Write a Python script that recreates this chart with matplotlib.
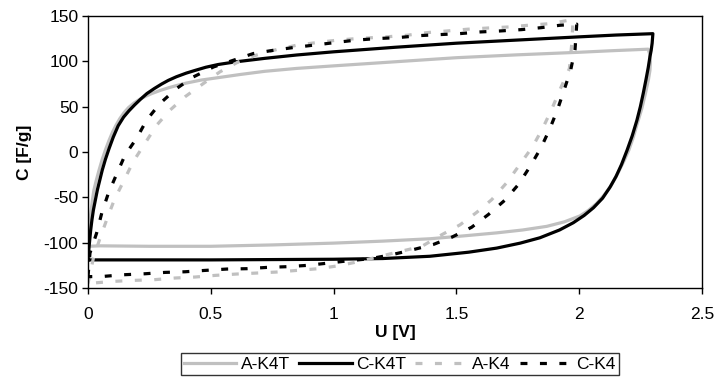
#!/usr/bin/env python
# coding=utf-8
"""
Cyclic voltammetry style loops: C [F/g] vs U [V]
"""
import matplotlib
matplotlib.use('Agg')
import matplotlib.pyplot as plt

# for figure
FIG_W = 7.15
FIG_H = 3.77
DPI = 100
FONT_SIZE = 12.5
GREY = '#C0C0C0'

# A-K4T (grey solid)
a_k4t_u = [0.0, 0.002, 0.004, 0.008, 0.013, 0.018, 0.024, 0.034, 0.045, 0.058, 0.072, 0.086,
           0.1, 0.115, 0.13, 0.147, 0.165, 0.187, 0.21, 0.235, 0.26, 0.295, 0.33, 0.365, 0.4,
           0.46, 0.53, 0.62, 0.72, 0.85, 1.0, 1.25, 1.5, 1.75, 2.0, 2.14, 2.281,
           2.287, 2.29, 2.288, 2.282, 2.27, 2.255, 2.235, 2.22, 2.202, 2.182, 2.16, 2.13, 2.1,
           2.07, 2.037, 2.003, 1.94, 1.868, 1.77, 1.664, 1.53, 1.392, 1.2, 1.0, 0.75, 0.5,
           0.25, 0.05, 0.0]
a_k4t_c = [-104, -95, -86, -75, -64, -53, -42, -31, -20, -8, 3, 13,
           22, 30, 37, 43.5, 49, 54, 58, 61.5, 64.5, 68, 71, 73.6, 76,
           79.3, 82, 85.5, 89, 92.2, 95, 99.5, 104, 107.2, 110, 111.8, 113.4,
           108, 100, 90, 80, 65, 48, 30, 16, 2, -10, -22, -37, -48,
           -57, -64.5, -70.5, -77, -82, -86, -89.2, -92.5, -95.7, -98.3, -100.5, -102.5, -104,
           -104, -103.5, -104]

# C-K4T (black solid)
c_k4t_u = [0.0, 0.002, 0.004, 0.007, 0.011, 0.016, 0.022, 0.03, 0.038, 0.048, 0.058, 0.071,
           0.086, 0.103, 0.123, 0.145, 0.167, 0.19, 0.215, 0.24, 0.27, 0.3, 0.327, 0.36, 0.4,
           0.436, 0.48, 0.53, 0.6, 0.72, 0.85, 1.0, 1.25, 1.5, 1.75, 2.0, 2.15, 2.3,
           2.297, 2.293, 2.288, 2.281, 2.272, 2.261, 2.249, 2.235, 2.216, 2.195, 2.172, 2.15,
           2.125, 2.095, 2.058, 2.02, 1.976, 1.92, 1.84, 1.76, 1.664, 1.55, 1.392, 1.2, 1.0,
           0.5, 0.0]
c_k4t_c = [-119, -112, -106, -97, -86, -75, -64, -53, -42, -31, -20, -8,
           4, 16.5, 29, 38.5, 45.5, 52, 58.5, 64.5, 70, 75, 79, 83, 87,
           90, 93.5, 96.5, 99.4, 103.3, 107, 110.5, 115.5, 120, 123.5, 127, 129, 130.5,
           120, 112, 105, 93, 80, 65, 50, 35, 18, 2, -14, -27,
           -39, -51, -61.5, -70, -78, -86, -94.6, -100.5, -106, -110.5, -115, -117.5, -118.3,
           -119, -119]

# A-K4 (grey dashed)
a_k4_u = [0.0, 0.022, 0.049, 0.076, 0.107, 0.144, 0.184, 0.232, 0.28, 0.334, 0.395, 0.47,
          0.537, 0.612, 0.687, 0.768, 0.85, 0.931, 1.013, 1.094, 1.21, 1.3, 1.381, 1.462,
          1.544, 1.632, 1.713, 1.794, 1.882, 1.957, 1.975,
          1.97, 1.96, 1.922, 1.888, 1.851, 1.81, 1.759, 1.705, 1.644, 1.583, 1.515, 1.44,
          1.359, 1.243, 1.189, 1.1, 1.019, 0.938, 0.85, 0.768, 0.687, 0.605, 0.517, 0.436,
          0.354, 0.266, 0.185, 0.103, 0.022, 0.0]
a_k4_c = [-145, -117, -95, -74.8, -52.8, -32.7, -10.7, 9.6, 29.7, 46.2, 60.9, 75.6,
          88.4, 99.4, 107, 113, 117.8, 120.7, 123.3, 125.1, 126.9, 128.8, 131.7, 133.5,
          135.4, 136.8, 137.9, 139.8, 141.6, 145.3, 146,
          120, 92, 69, 47, 26, 5.8, -13.5, -33.8, -52.5, -66.5, -80.3, -91.3,
          -104.1, -111.5, -115.2, -121, -125.5, -128.7, -130.6, -132.4, -133.5, -134.6, -136.1,
          -137.9, -139, -140.9, -141.6, -142.7, -144.5, -145]

# C-K4 (black dashed)
c_k4_u = [0.0, 0.008, 0.035, 0.056, 0.083, 0.117, 0.151, 0.198, 0.239, 0.293, 0.361, 0.429,
          0.511, 0.592, 0.673, 0.755, 0.836, 0.917, 1.006, 1.087, 1.176, 1.263, 1.352, 1.433,
          1.515, 1.596, 1.678, 1.766, 1.847, 1.922, 1.99,
          1.983, 1.965, 1.938, 1.912, 1.881, 1.845, 1.8, 1.752, 1.698, 1.63, 1.562, 1.481,
          1.406, 1.311, 1.236, 1.148, 1.06, 0.979, 0.89, 0.809, 0.728, 0.646, 0.565, 0.476,
          0.395, 0.313, 0.232, 0.144, 0.062, 0.0]
c_k4_c = [-137.5, -111.5, -89.5, -67.4, -45.4, -24.2, -3.3, 15.1, 35.3, 53.5, 70.1, 82.8,
          93.8, 101.2, 108.6, 112.2, 115.2, 117.8, 120.7, 123.3, 125.1, 126.2, 128.4, 129.5,
          130.6, 132.4, 133.5, 135, 137.2, 139.8, 141,
          113, 90, 68, 47, 26, 5, -16, -36, -53, -69, -83, -94,
          -102, -108.6, -113.3, -117.7, -120, -122.5, -125.1, -126.5, -127.3, -128.7, -129.1, -130.6,
          -132.1, -132.8, -134.3, -135.4, -137.2, -137.5]

x_ticks = [0, 0.5, 1, 1.5, 2, 2.5]
x_tick_labels = ['0', '0.5', '1', '1.5', '2', '2.5']
y_ticks = [-150, -100, -50, 0, 50, 100, 150]

plt.rcParams['font.family'] = ['Liberation Sans', 'DejaVu Sans']
plt.rcParams['lines.scale_dashes'] = False
plt.rcParams['axes.unicode_minus'] = False

fig = plt.figure(figsize=(FIG_W, FIG_H), dpi=DPI)
ax = fig.add_axes([88 / 715, 1 - 288 / 377, 614 / 715, 272 / 377])

dash = (0, (5, 9))
ax.plot(a_k4t_u, a_k4t_c, color=GREY, lw=2.3, label='A-K4T', solid_joinstyle='round')
ax.plot(c_k4t_u, c_k4t_c, color='black', lw=2.3, label='C-K4T', solid_joinstyle='round')
ax.plot(a_k4_u, a_k4_c, color=GREY, lw=2.3, ls=dash, label='A-K4')
ax.plot(c_k4_u, c_k4_c, color='black', lw=2.3, ls=dash, label='C-K4')

ax.set_xlim(0, 2.5)
ax.set_ylim(-150, 150)
ax.set_xticks(x_ticks)
ax.set_xticklabels(x_tick_labels)
ax.set_yticks(y_ticks)
ax.tick_params(direction='out', length=4, width=1, labelsize=FONT_SIZE, top=False, right=False)
ax.tick_params(axis='x', pad=10)
ax.tick_params(axis='y', pad=3)
for sp in ax.spines.values():
    sp.set_linewidth(1)
    sp.set_color('black')

ax.set_xlabel('U [V]', fontsize=FONT_SIZE, fontweight='bold', labelpad=2)
ax.set_ylabel('C [F/g]', fontsize=FONT_SIZE, fontweight='bold', labelpad=8)

leg = fig.legend(loc='upper center', bbox_to_anchor=(400 / 715, 1 - 353 / 377), ncol=4,
                 fontsize=FONT_SIZE, frameon=True, fancybox=False, edgecolor='black',
                 handlelength=3.0, handletextpad=0.25, columnspacing=0.55, borderpad=0.2,
                 borderaxespad=0)
leg.get_frame().set_linewidth(1)

fig.savefig('out.png', dpi=DPI)
